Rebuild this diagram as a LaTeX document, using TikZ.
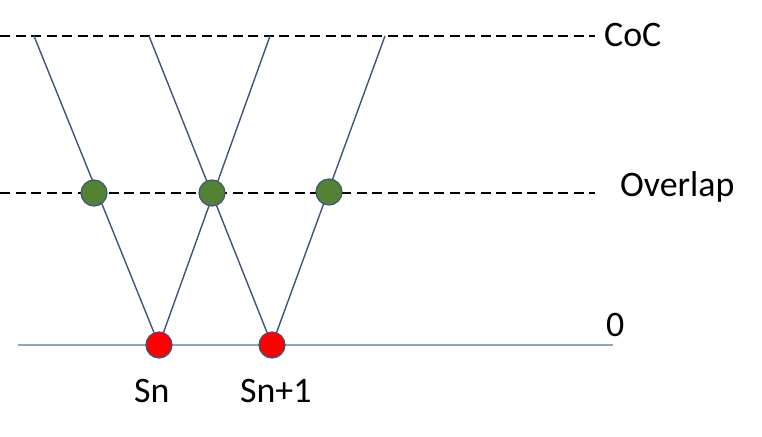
\documentclass[tikz,border=0pt]{standalone}
\usepackage{fontspec}
\setmainfont{Carlito}
\definecolor{linec}{RGB}{62,84,122}
\definecolor{basec}{RGB}{140,165,195}
\definecolor{greenc}{RGB}{84,130,53}
\definecolor{redc}{RGB}{255,0,0}
\begin{document}
\begin{tikzpicture}[x=1bp,y=-1bp,
  lvl/.style={line width=1.4bp, dash pattern=on 10bp off 5.5bp, black},
  ray/.style={line width=1.4bp, linec},
  dotg/.style={circle, minimum size=26bp, inner sep=0pt, fill=greenc, draw=linec, line width=1.2bp},
  dotr/.style={circle, minimum size=26bp, inner sep=0pt, fill=redc, draw=linec, line width=1.2bp},
  lab/.style={inner sep=0pt, anchor=base west, font=\fontsize{36}{40}\selectfont}]
\useasboundingbox (0,0) rectangle (762,437);
% level lines
\coordinate (cocL) at (0,36);
\coordinate (cocR) at (595,36);
\coordinate (ovL) at (0,193);
\coordinate (ovR) at (595,193);
\coordinate (zL) at (18,345);
\coordinate (zR) at (613,345);
\draw[lvl] (cocL) -- (cocR);
\draw[lvl] (ovL) -- (ovR);
\draw[line width=1.2bp, basec] (zL) -- (zR);
% top ends
\coordinate (t1) at (34,36);
\coordinate (t2) at (149,36);
\coordinate (t3) at (270,36);
\coordinate (t4) at (385,36);
% source nodes
\node[dotr] (sn) at (159,345) {};
\node[dotr] (sn1) at (272,345) {};
\draw[ray] (sn) -- (t1);
\draw[ray] (sn) -- (t3);
\draw[ray] (sn1) -- (t2);
\draw[ray] (sn1) -- (t4);
% overlap nodes
\node[dotg] (o1) at (94,193) {};
\node[dotg] (o2) at (212,193) {};
\node[dotg] (o3) at (329,192) {};
% labels
\node[lab] (lcoc) at (604,47) {CoC};
\node[lab] (lov) at (620,197) {Overlap};
\node[lab] (lz) at (606,337) {0};
\node[lab] (lsn) at (134,402) {Sn};
\node[lab] (lsn1) at (240,402) {Sn+1};
\end{tikzpicture}
\end{document}
